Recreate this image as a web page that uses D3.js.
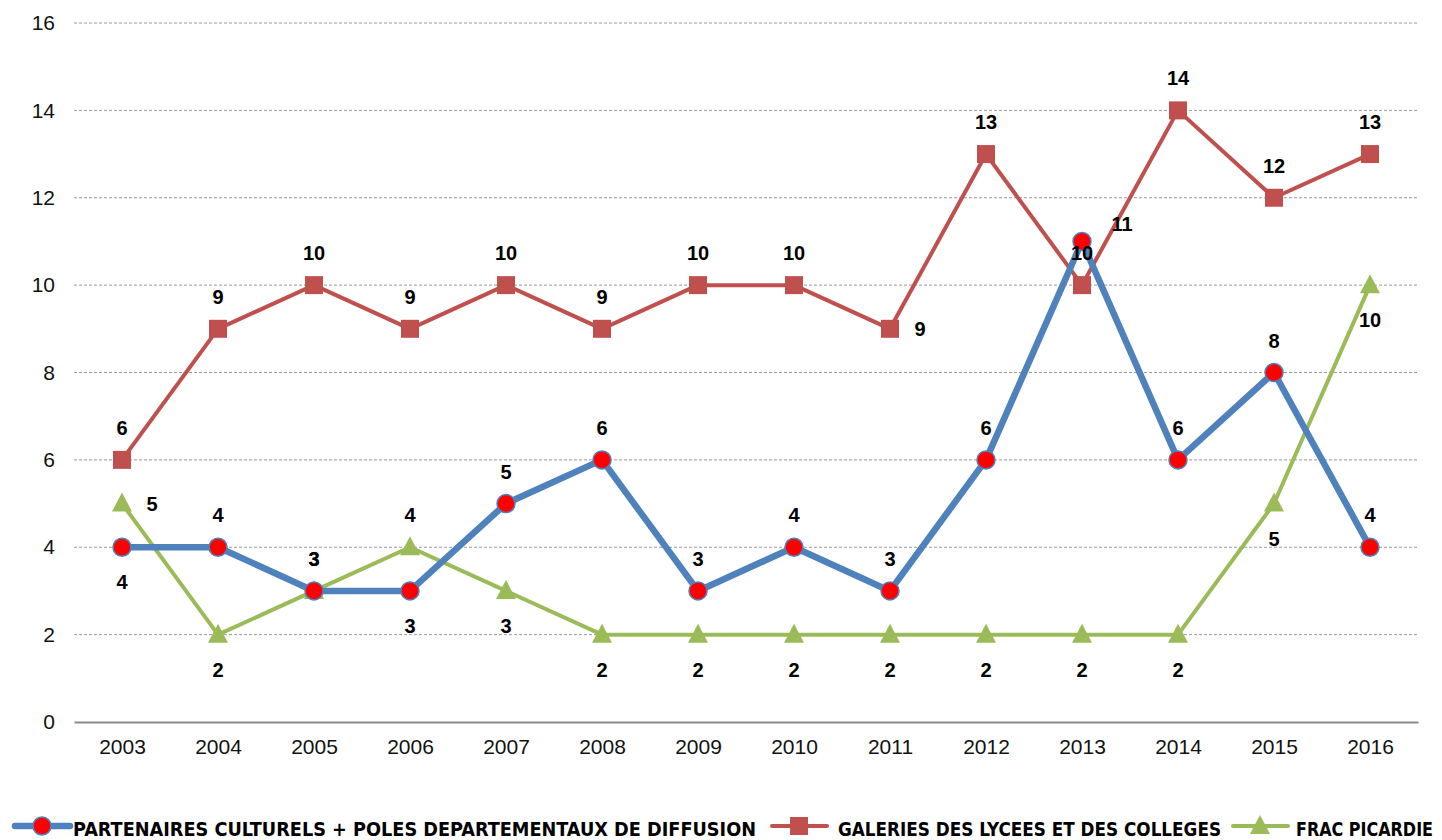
<!DOCTYPE html>
<meta charset="utf-8">
<head>
<title>Expositions 2003-2016</title>
<style>
  body { margin: 0; background: #fff; }
  svg text { font-family: Arial, "Liberation Sans", sans-serif; }
</style>
</head>
<body>
<div id="chart"></div>
<script src="https://d3js.org/d3.v7.min.js"></script>
<script>

// years on the x axis
var years = ["2003","2004","2005","2006","2007","2008","2009","2010","2011","2012","2013","2014","2015","2016"];

// the three series
var partenaires = [4, 4, 3, 3, 5, 6, 3, 4, 3, 6, 11, 6, 8, 4];
var galeries    = [6, 9, 10, 9, 10, 9, 10, 10, 9, 13, 10, 14, 12, 13];
var frac        = [5, 2, 3, 4, 3, 2, 2, 2, 2, 2, 2, 2, 5, 10];

var yTicks = [0, 2, 4, 6, 8, 10, 12, 14, 16];

// where each value label sits (t = above, b = below, r = right, tr = upper right)
var partenairesLab = ["b","t","t","b","t","t","t","t","t","t","tr","t","t","t"];
var galeriesLab    = ["t","t","t","t","t","t","t","t","r","t","t","t","t","t"];
var fracLab        = ["r","b","t","t","b","b","b","b","b","b","b","b","b","b"];

var W = 1442, H = 840;
var margin = {top: 23, right: 24, bottom: 118, left: 74};

var svg = d3.select("#chart").append("svg")
    .attr("width", W)
    .attr("height", H);

var g = svg.append("g")
    .attr("transform", "translate(" + margin.left + "," + margin.top + ")");

var width = W - margin.left - margin.right,
    height = H - margin.top - margin.bottom;

var x = d3.scalePoint()
    .domain(years)
    .range([0, width])
    .padding(0.5);

var y = d3.scaleLinear()
    .domain([0, 16])
    .range([height, 0]);

// grid lines
g.selectAll(".grid")
  .data(yTicks.filter(function(d) { return d > 0; }))
  .enter().append("line")
    .attr("x1", 0)
    .attr("x2", width)
    .attr("y1", function(d) { return y(d); })
    .attr("y2", function(d) { return y(d); })
    .attr("stroke", "#9a9a9a")
    .attr("stroke-width", 1)
    .attr("stroke-dasharray", "3,2");

// y axis labels
var yAxis = g.append("g")
    .call(d3.axisLeft(y).tickValues(yTicks).tickSize(0).tickPadding(19));
yAxis.select(".domain").remove();
yAxis.selectAll("text")
    .style("font-size", "21px")
    .attr("fill", "#111");

// x axis
var xAxis = g.append("g")
    .attr("transform", "translate(0," + height + ")")
    .call(d3.axisBottom(x).tickSize(0).tickPadding(17));
xAxis.select(".domain")
    .attr("stroke", "#8c8c8c")
    .attr("stroke-width", 2);
xAxis.selectAll("text")
    .style("font-size", "21px")
    .attr("fill", "#111");

var line = d3.line()
    .x(function(d, i) { return x(years[i]); })
    .y(function(d) { return y(d); });

var series = [
  {name: "PARTENAIRES CULTURELS + POLES DEPARTEMENTAUX DE DIFFUSION", values: partenaires, labels: partenairesLab, color: "#4F81BD", width: 6.5, marker: "circle"},
  {name: "GALERIES DES LYCEES ET DES COLLEGES", values: galeries, labels: galeriesLab, color: "#C0504D", width: 4, marker: "square"},
  {name: "FRAC PICARDIE", values: frac, labels: fracLab, color: "#9BBB59", width: 4, marker: "triangle"}
];

function drawMarker(sel, s) {
  if (s.marker === "circle") {
    sel.append("circle")
      .attr("r", 9)
      .attr("fill", "#FF0000")
      .attr("stroke", s.color)
      .attr("stroke-width", 1.5);
  } else if (s.marker === "square") {
    sel.append("rect")
      .attr("x", -9).attr("y", -9)
      .attr("width", 18).attr("height", 18)
      .attr("fill", s.color);
  } else {
    sel.append("path")
      .attr("d", "M0,-11 L10,8 L-10,8 Z")
      .attr("fill", s.color);
  }
}

// draw order: green first, then red, then blue on top
[series[2], series[1], series[0]].forEach(function(s) {
  g.append("path")
    .datum(s.values)
    .attr("fill", "none")
    .attr("stroke", s.color)
    .attr("stroke-width", s.width)
    .attr("stroke-linejoin", "round")
    .attr("d", line);

  s.values.forEach(function(v, i) {
    var m = g.append("g")
      .attr("transform", "translate(" + x(years[i]) + "," + y(v) + ")");
    drawMarker(m, s);
  });
});

// value labels
series.forEach(function(s) {
  g.selectAll(null)
    .data(s.values)
    .enter().append("text")
      .attr("x", function(d, i) {
        var p = s.labels[i];
        if (p === "r") return x(years[i]) + 30;
        if (p === "tr") return x(years[i]) + 40;
        return x(years[i]);
      })
      .attr("y", function(d, i) {
        var p = s.labels[i];
        if (p === "t") return y(d) - 32;
        if (p === "b") return y(d) + 35;
        if (p === "tr") return y(d) - 17;
        return y(d);
      })
      .attr("dy", "0.35em")
      .attr("text-anchor", "middle")
      .style("font-size", "20px")
      .style("font-weight", "bold")
      .attr("fill", "#000")
      .text(function(d) { return d; });
});

// legend
var legendItems = [
  {s: series[0], x0: 15, textX: 73, textW: 683},
  {s: series[1], x0: 772, textX: 838, textW: 383},
  {s: series[2], x0: 1233, textX: 1296, textW: 137}
];
var ly = 826;
legendItems.forEach(function(it) {
  var lg = svg.append("g");
  lg.append("line")
    .attr("x1", it.x0).attr("x2", it.x0 + 55)
    .attr("y1", ly).attr("y2", ly)
    .attr("stroke", it.s.color)
    .attr("stroke-width", it.s.width)
    .attr("stroke-linecap", "round");
  var m = lg.append("g").attr("transform", "translate(" + (it.x0 + 27) + "," + ly + ")");
  drawMarker(m, it.s);
  lg.append("text")
    .attr("x", it.textX)
    .attr("y", ly + 10)
    .attr("textLength", it.textW)
    .attr("lengthAdjust", "spacingAndGlyphs")
    .style("font-family", "'Liberation Sans Narrow', 'DejaVu Sans Condensed', Arial, sans-serif")
    .style("font-size", "19px")
    .style("font-weight", "bold")
    .attr("fill", "#000")
    .text(it.s.name);
});

</script>
</body>
